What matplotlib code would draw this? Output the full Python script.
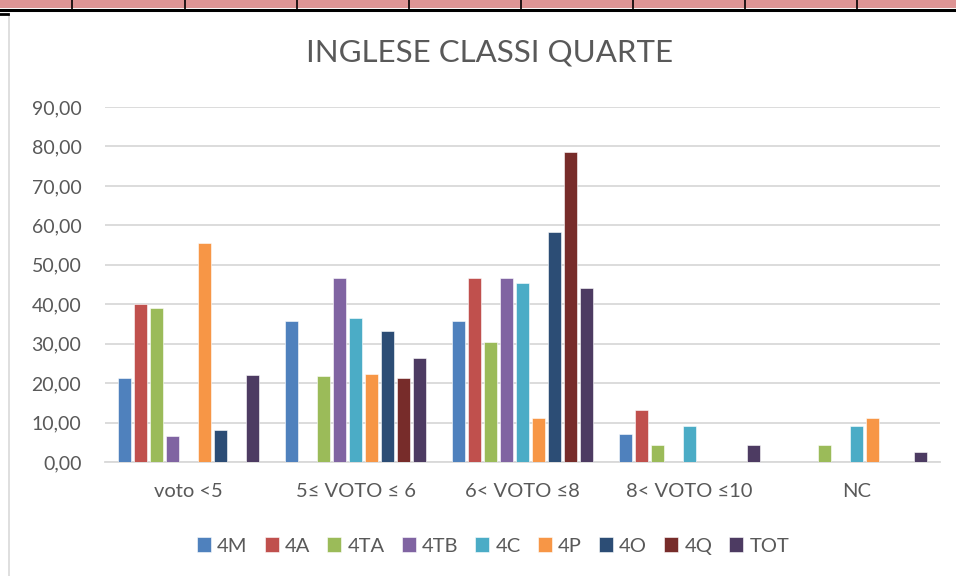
import matplotlib
matplotlib.use("Agg")
import matplotlib.pyplot as plt
import numpy as np
from matplotlib.patches import Rectangle
from matplotlib.lines import Line2D

categories = ["voto <5", "5\u2264 VOTO \u2264 6", "6< VOTO \u22648", "8< VOTO \u226410", "NC"]
series = ["4M", "4A", "4TA", "4TB", "4C", "4P", "4O", "4Q", "TOT"]
v_4M = [21.4, 35.7, 35.7, 7.1, 0]
v_4A = [40.0, 0, 46.7, 13.3, 0]
v_4TA = [39.1, 21.7, 30.4, 4.3, 4.3]
v_4TB = [6.5, 46.7, 46.7, 0, 0]
v_4C = [0, 36.4, 45.5, 9.1, 9.1]
v_4P = [55.6, 22.2, 11.1, 0, 11.1]
v_4O = [8.1, 33.3, 58.3, 0, 0]
v_4Q = [0, 21.4, 78.6, 0, 0]
v_TOT = [22.0, 26.4, 44.0, 4.2, 2.5]
values = [v_4M, v_4A, v_4TA, v_4TB, v_4C, v_4P, v_4O, v_4Q, v_TOT]
yticks = [0, 10, 20, 30, 40, 50, 60, 70, 80, 90]
title = "INGLESE CLASSI QUARTE"

colors = ["#4F81BD", "#C0504D", "#9BBB59", "#8064A2", "#4BACC6",
          "#F79646", "#2C4D75", "#772C2A", "#4D3B62"]

plt.rcParams['font.family'] = ['Lato', 'DejaVu Sans']
txt = "#595959"

fig = plt.figure(figsize=(9.56, 5.76), dpi=100)

# spreadsheet strip at top
fig.patches.append(Rectangle((0, 1 - 8/576), 1, 8/576, transform=fig.transFigure,
                             facecolor="#DE9595", edgecolor="none", zorder=0))
fig.lines.append(Line2D([0, 1], [1 - 9.5/576, 1 - 9.5/576], transform=fig.transFigure,
                        color="black", lw=2.2))
for xd in [72, 185, 297, 409, 521, 633, 745, 857]:
    fig.lines.append(Line2D([xd/956, xd/956], [1 - 9/576, 1], transform=fig.transFigure,
                            color="black", lw=1.2))
fig.lines.append(Line2D([9/956, 9/956], [0, 1 - 15/576], transform=fig.transFigure,
                        color="#D9D9D9", lw=1.2))
fig.lines.append(Line2D([0, 8/956], [1 - 14/576, 1 - 14/576], transform=fig.transFigure,
                        color="black", lw=2))

ax = fig.add_axes([105/956, 1 - 462/576, (940 - 105)/956, (462 - 107)/576])
x = np.arange(len(categories))
step = 0.096
width = 0.078
n = len(series)
for i, (name, vals, c) in enumerate(zip(series, values, colors)):
    off = (i - (n - 1) / 2) * step
    ax.bar(x + off, vals, width=width, color=c, label=name,
           edgecolor="white", linewidth=0.4, zorder=3)

ax.set_xlim(-0.5, len(categories) - 0.5)
ax.set_ylim(0, 90)
ax.set_yticks(yticks)
ax.set_yticklabels([f"{t:.2f}".replace(".", ",") for t in yticks])
ax.set_xticks(x)
ax.set_xticklabels(categories)
ax.tick_params(axis="y", length=0, pad=17, labelsize=14, labelcolor=txt)
ax.tick_params(axis="x", length=0, pad=15, labelsize=14.5, labelcolor=txt)
ax.yaxis.grid(True, color="#D9D9D9", lw=1.3, zorder=0)
ax.set_axisbelow(True)
for s in ["top", "right", "left"]:
    ax.spines[s].set_visible(False)
ax.spines["bottom"].set_color("#D9D9D9")
ax.spines["bottom"].set_linewidth(1.3)

fig.text(490/956, 1 - 53/576, title, ha="center", va="center", fontsize=22.5, color=txt)

handles, labels = ax.get_legend_handles_labels()
fig.legend(handles, labels, loc="center", bbox_to_anchor=(493/956, 1 - 546/576),
           ncol=9, frameon=False, fontsize=14.5, labelcolor=txt,
           handlelength=0.7, handleheight=0.7, handletextpad=0.3, columnspacing=0.85)

fig.savefig("out.png", dpi=100)
